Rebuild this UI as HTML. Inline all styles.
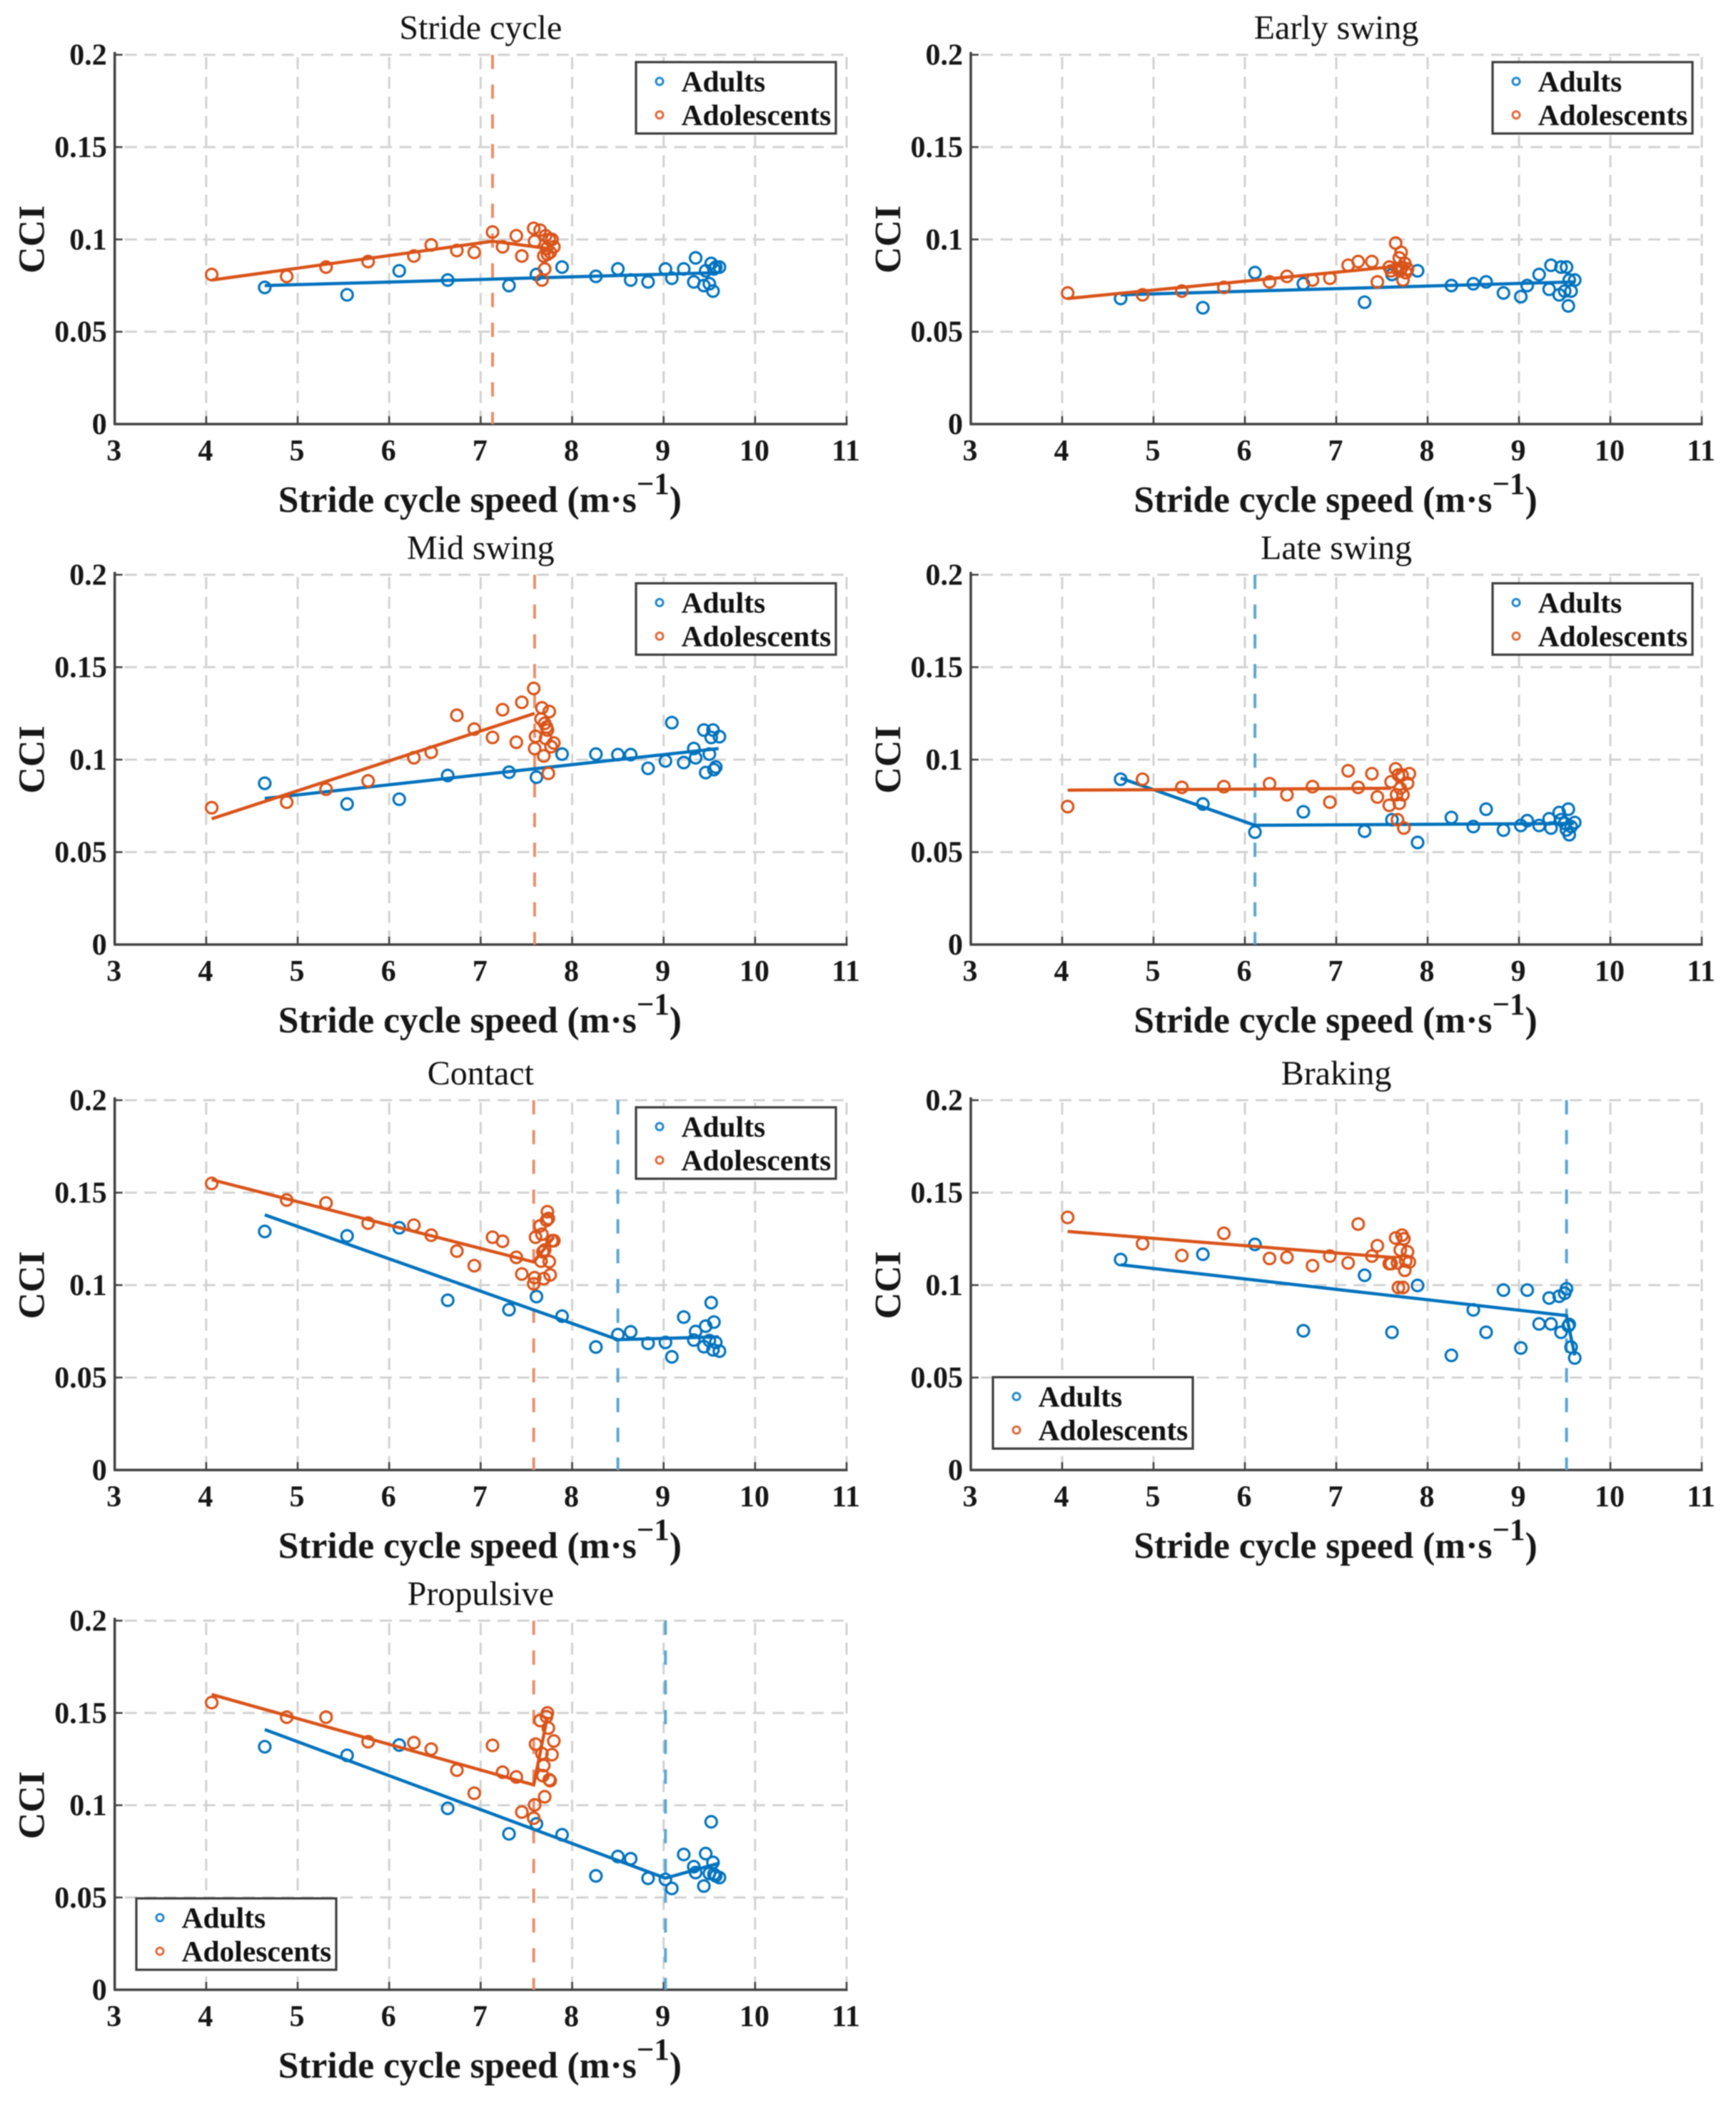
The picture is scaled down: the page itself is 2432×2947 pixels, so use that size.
<!DOCTYPE html>
<html lang="en">
<head>
<meta charset="utf-8">
<title>CCI versus stride cycle speed</title>
<style>
html,body{margin:0;padding:0;background:#fff;}
#figure{display:block;width:2432px;height:2947px;font-family:"Liberation Serif",serif;filter:blur(0.9px);}
</style>
</head>
<body>
<svg id="figure" xmlns="http://www.w3.org/2000/svg" width="2432" height="2947" viewBox="0 0 2432 2947"></svg>
<script>
// ---- Shared axis data ----
const xTicks = [3,4,5,6,7,8,9,10,11];
const yTicks = [0,0.05,0.1,0.15,0.2];
const yTickLabels = ["0","0.05","0.1","0.15","0.2"];
const xAxisTitle = "Stride cycle speed (m·s";
const xAxisSuperscript = "−1";
const yAxisTitle = "CCI";
const seriesNames = ["Adults","Adolescents"];

// ---- Speeds ----
const adultX = [4.64,5.54,6.11,6.64,7.31,7.61,7.89,8.26,8.5,8.64,8.83,9.02,9.09,9.22,9.33,9.35,9.44,9.46,9.5,9.52,9.54,9.55,9.57,9.61];

// ---- Stride cycle ----
const strideAdultY = [.074,.070,.083,.078,.075,.081,.085,.080,.084,.078,.077,.084,.079,.084,.077,.090,.075,.083,.076,.087,.072,.084,.085,.085];
const strideAdoX = [4.06,4.88,5.31,5.77,6.27,6.46,6.74,6.93,7.13,7.24,7.39,7.45,7.58,7.59,7.65,7.67,7.69,7.70,7.71,7.72,7.73,7.75,7.76,7.78,7.80];
const strideAdoY = [.081,.080,.085,.088,.091,.097,.094,.093,.104,.096,.102,.091,.106,.099,.105,.078,.091,.084,.102,.095,.092,.100,.093,.100,.096];
const strideAdultFitX = [4.64,9.6];
const strideAdultFitY = [.075,.082];
const strideAdoFitX = [4.06,7.13,7.75];
const strideAdoFitY = [.078,.099,.095];

// ---- Early swing ----
const earlyAdultY = [.068,.063,.082,.076,.066,.081,.083,.075,.076,.077,.071,.069,.075,.081,.073,.086,.070,.085,.072,.085,.064,.078,.072,.078];
const earlyAdoX = [4.06,4.88,5.31,5.77,6.27,6.46,6.74,6.93,7.13,7.24,7.39,7.45,7.58,7.6,7.65,7.67,7.69,7.70,7.71,7.72,7.73,7.75,7.76,7.78];
const earlyAdoY = [.071,.070,.072,.074,.077,.080,.078,.079,.086,.088,.088,.077,.085,.083,.098,.084,.090,.083,.093,.085,.078,.087,.082,.084];
const earlyAdultFitX = [4.64,9.6];
const earlyAdultFitY = [.070,.077];
const earlyAdoFitX = [4.06,7.78];
const earlyAdoFitY = [.068,.086];

// ---- Mid swing ----
const midAdultY = [.0872,.076,.0786,.0914,.0932,.0905,.103,.103,.1027,.1027,.0953,.0993,.120,.0984,.106,.101,.116,.093,.103,.112,.116,.0946,.096,.1124];
const midAdoX = [4.06,4.88,5.31,5.77,6.27,6.46,6.74,6.93,7.13,7.24,7.39,7.45,7.58,7.59,7.6,7.66,7.67,7.69,7.7,7.71,7.72,7.73,7.74,7.75,7.77,7.8];
const midAdoY = [.074,.077,.084,.0885,.101,.104,.124,.1165,.112,.127,.1094,.131,.1385,.106,.1126,.122,.128,.102,.1196,.1115,.1176,.116,.0926,.126,.107,.109];
const midAdultFitX = [4.64,9.6];
const midAdultFitY = [.079,.106];
const midAdoFitX = [4.06,7.59];
const midAdoFitY = [.068,.125];

// ---- Late swing ----
const lateAdultY = [.0894,.076,.0608,.0718,.0613,.0675,.0552,.0687,.0638,.0732,.0619,.0644,.067,.0644,.068,.063,.0714,.0675,.0656,.062,.0732,.0594,.0638,.066];
const lateAdoX = [4.06,4.88,5.31,5.77,6.27,6.46,6.74,6.93,7.13,7.24,7.39,7.45,7.58,7.6,7.65,7.66,7.67,7.68,7.69,7.7,7.72,7.73,7.74,7.78,7.8];
const lateAdoY = [.0746,.0894,.085,.0854,.087,.081,.0854,.077,.094,.085,.0924,.0798,.0753,.088,.095,.081,.0675,.0917,.0764,.0845,.0917,.081,.063,.0872,.0924];
const lateAdultFitX = [4.64,6.11,9.6];
const lateAdultFitY = [.090,.0645,.0655];
const lateAdoFitX = [4.06,7.6];
const lateAdoFitY = [.0835,.0845];

// ---- Contact ----
const contactAdultY = [.129,.1266,.131,.0918,.0867,.0938,.0832,.0665,.0732,.0747,.0685,.069,.0612,.0827,.0703,.0749,.0667,.0778,.07,.0905,.065,.08,.069,.0643];
const contactAdoX = [4.06,4.88,5.31,5.77,6.27,6.46,6.74,6.93,7.13,7.24,7.39,7.45,7.58,7.59,7.6,7.65,7.66,7.67,7.68,7.69,7.7,7.72,7.73,7.74,7.75,7.76,7.78,7.8];
const contactAdoY = [.155,.146,.1444,.1335,.1324,.127,.1184,.1105,.1259,.1237,.115,.106,.1007,.104,.1259,.132,.113,.1275,.118,.1035,.119,.135,.1397,.136,.1127,.1055,.124,.124];
const contactAdultFitX = [4.64,8.5,9.6];
const contactAdultFitY = [.138,.0705,.072];
const contactAdoFitX = [4.06,7.58,7.8];
const contactAdoFitY = [.157,.1125,.126];

// ---- Braking ----
const brakingAdultY = [.1138,.1167,.122,.0753,.1053,.0745,.0998,.062,.0866,.0745,.0973,.066,.0973,.079,.093,.079,.094,.0745,.0956,.098,.078,.0787,.0665,.0606];
const brakingAdoX = [4.06,4.88,5.31,5.77,6.27,6.46,6.74,6.93,7.13,7.24,7.39,7.45,7.58,7.6,7.65,7.67,7.68,7.7,7.72,7.73,7.74,7.75,7.76,7.78,7.8];
const brakingAdoY = [.1366,.1224,.116,.128,.1144,.115,.1105,.1157,.112,.133,.1157,.1213,.1116,.1116,.1255,.112,.0987,.119,.127,.0987,.125,.108,.113,.118,.1125];
const brakingAdultFitX = [4.64,9.52,9.61];
const brakingAdultFitY = [.111,.0835,.062];
const brakingAdoFitX = [4.06,7.6,7.65];
const brakingAdoFitY = [.129,.115,.115];

// ---- Propulsive ----
const propAdultY = [.1317,.127,.1326,.0983,.0845,.0899,.084,.0617,.0722,.071,.0604,.0598,.0549,.0733,.0667,.0635,.0562,.0738,.063,.091,.069,.0626,.0617,.0608];
const propAdoX = [4.06,4.88,5.31,5.77,6.27,6.46,6.74,6.93,7.13,7.24,7.39,7.45,7.58,7.59,7.6,7.65,7.67,7.68,7.69,7.7,7.72,7.73,7.74,7.75,7.76,7.78,7.8];
const propAdoY = [.1556,.1477,.1477,.1344,.1339,.1304,.119,.1065,.1324,.1179,.1153,.0963,.093,.1002,.1331,.1459,.128,.116,.1215,.1046,.148,.15,.1418,.1138,.1133,.1274,.1348];
const propAdultFitX = [4.64,9.02,9.6];
const propAdultFitY = [.141,.0605,.0685];
const propAdoFitX = [4.06,7.58,7.73];
const propAdoFitY = [.16,.111,.148];

// ---- Panel wiring ----
const panels = [
 {slug:"stride-cycle", title:"Stride cycle", left:160.7, right:1186, top:76.7, bottom:594, ax:adultX, ay:strideAdultY, ox:strideAdoX, oy:strideAdoY, afx:strideAdultFitX, afy:strideAdultFitY, ofx:strideAdoFitX, ofy:strideAdoFitY, adultBreak:null, adoBreak:7.13, legendX:891, legendY:87},
 {slug:"early-swing", title:"Early swing", left:1360, right:2384, top:76.7, bottom:594, ax:adultX, ay:earlyAdultY, ox:earlyAdoX, oy:earlyAdoY, afx:earlyAdultFitX, afy:earlyAdultFitY, ofx:earlyAdoFitX, ofy:earlyAdoFitY, adultBreak:null, adoBreak:null, legendX:2091, legendY:87},
 {slug:"mid-swing", title:"Mid swing", left:160.7, right:1186, top:805, bottom:1323, ax:adultX, ay:midAdultY, ox:midAdoX, oy:midAdoY, afx:midAdultFitX, afy:midAdultFitY, ofx:midAdoFitX, ofy:midAdoFitY, adultBreak:null, adoBreak:7.59, legendX:891, legendY:817},
 {slug:"late-swing", title:"Late swing", left:1360, right:2384, top:805, bottom:1323, ax:adultX, ay:lateAdultY, ox:lateAdoX, oy:lateAdoY, afx:lateAdultFitX, afy:lateAdultFitY, ofx:lateAdoFitX, ofy:lateAdoFitY, adultBreak:6.11, adoBreak:null, legendX:2091, legendY:817},
 {slug:"contact", title:"Contact", left:160.7, right:1186, top:1541, bottom:2059, ax:adultX, ay:contactAdultY, ox:contactAdoX, oy:contactAdoY, afx:contactAdultFitX, afy:contactAdultFitY, ofx:contactAdoFitX, ofy:contactAdoFitY, adultBreak:8.5, adoBreak:7.58, legendX:891, legendY:1551},
 {slug:"braking", title:"Braking", left:1360, right:2384, top:1541, bottom:2059, ax:adultX, ay:brakingAdultY, ox:brakingAdoX, oy:brakingAdoY, afx:brakingAdultFitX, afy:brakingAdultFitY, ofx:brakingAdoFitX, ofy:brakingAdoFitY, adultBreak:9.52, adoBreak:null, legendX:1391, legendY:1929},
 {slug:"propulsive", title:"Propulsive", left:160.7, right:1186, top:2270, bottom:2787, ax:adultX, ay:propAdultY, ox:propAdoX, oy:propAdoY, afx:propAdultFitX, afy:propAdultFitY, ofx:propAdoFitX, ofy:propAdoFitY, adultBreak:9.02, adoBreak:7.58, legendX:191, legendY:2659}
];

const BLUE = "#0072BD", ORANGE = "#D95319", BLUE_V = "#5BA6D3", ORANGE_V = "#E8906C";
const AXIS = "#404040", GRID = "#d2d2d2", INK = "#161616";
const XMIN = 3, XMAX = 11, YMIN = 0, YMAX = 0.2;
const NS = "http://www.w3.org/2000/svg";
const root = document.getElementById("figure");

function make(tag, attrs, parent){
  const el = document.createElementNS(NS, tag);
  for (const k in attrs) el.setAttribute(k, attrs[k]);
  parent.appendChild(el);
  return el;
}

panels.forEach(function(p){
  const sx = function(v){ return p.left + (v - XMIN) / (XMAX - XMIN) * (p.right - p.left); };
  const sy = function(v){ return p.bottom - (v - YMIN) / (YMAX - YMIN) * (p.bottom - p.top); };
  const centre = (p.left + p.right) / 2;

  const g = make("g", {}, root);
  
  

  // grid
  const grid = make("g", {stroke:GRID, "stroke-width":3, fill:"none"}, g);
  
  
  xTicks.forEach(function(t){
    if (t === XMIN) return;
    const l = make("line", {x1:sx(t), x2:sx(t), y1:p.top, y2:p.bottom, "stroke-dasharray":"17 10.5", "stroke-dashoffset":24.2}, grid);
    
    
  });
  yTicks.forEach(function(t){
    if (t === YMIN) return;
    const l = make("line", {x1:p.left, x2:p.right, y1:sy(t), y2:sy(t), "stroke-dasharray":"17 10.5", "stroke-dashoffset":13.5}, grid);
    
    
  });

  // axes and ticks
  const xAxis = make("line", {x1:p.left-1.5, x2:p.right+1.5, y1:p.bottom, y2:p.bottom, stroke:AXIS, "stroke-width":3.5}, g);
  
  
  const yAxis = make("line", {x1:p.left, x2:p.left, y1:p.top-4, y2:p.bottom, stroke:AXIS, "stroke-width":3.5}, g);
  
  

  xTicks.forEach(function(t){
    const m = make("line", {x1:sx(t), x2:sx(t), y1:p.bottom, y2:p.bottom-11, stroke:AXIS, "stroke-width":2.5}, g);
    
    
    const lab = make("text", {x:sx(t)-1, y:p.bottom+51, "text-anchor":"middle", "font-size":42, "font-weight":"bold", fill:INK}, g);
    
    
    lab.textContent = String(t);
  });
  yTicks.forEach(function(t, i){
    const m = make("line", {x1:p.left, x2:p.left+11, y1:sy(t), y2:sy(t), stroke:AXIS, "stroke-width":2.5}, g);
    
    
    const lab = make("text", {x:p.left-11, y:sy(t)+14, "text-anchor":"end", "font-size":42, "font-weight":"bold", fill:INK}, g);
    
    
    lab.textContent = yTickLabels[i];
  });

  // breakpoints
  if (p.adoBreak !== null) {
    const v = make("line", {x1:sx(p.adoBreak), x2:sx(p.adoBreak), y1:p.top, y2:p.bottom, stroke:ORANGE_V, "stroke-width":4, "stroke-dasharray":"20 21.7"}, g);
    
    
  }
  if (p.adultBreak !== null) {
    const v = make("line", {x1:sx(p.adultBreak), x2:sx(p.adultBreak), y1:p.top, y2:p.bottom, stroke:BLUE_V, "stroke-width":4, "stroke-dasharray":"20 21.7"}, g);
    
    
  }

  // adults series
  const aPts = make("g", {fill:"none", stroke:BLUE, "stroke-width":3.2}, g);
  
  
  p.ay.forEach(function(y, i){
    const c = make("circle", {cx:sx(p.ax[i]), cy:sy(y), r:8}, aPts);
    
    
  });
  const aFit = make("polyline", {fill:"none", stroke:BLUE, "stroke-width":4.5, points:p.afx.map(function(x, i){ return sx(x) + "," + sy(p.afy[i]); }).join(" ")}, g);
  
  

  // adolescents series
  const oPts = make("g", {fill:"none", stroke:ORANGE, "stroke-width":3.2}, g);
  
  
  p.oy.forEach(function(y, i){
    const c = make("circle", {cx:sx(p.ox[i]), cy:sy(y), r:8}, oPts);
    
    
  });
  const oFit = make("polyline", {fill:"none", stroke:ORANGE, "stroke-width":4.5, points:p.ofx.map(function(x, i){ return sx(x) + "," + sy(p.ofy[i]); }).join(" ")}, g);
  
  

  // titles
  const title = make("text", {x:centre, y:p.top-22, "text-anchor":"middle", "font-size":48, fill:"#111"}, g);
  
  
  title.textContent = p.title;

  const xt = make("text", {x:centre-1, y:p.bottom+123, "text-anchor":"middle", "font-size":51.5, "font-weight":"bold", fill:INK}, g);
  
  
  xt.appendChild(document.createTextNode(xAxisTitle));
  const sup = make("tspan", {dy:-25, "font-size":43}, xt);
  sup.textContent = xAxisSuperscript;
  const close = make("tspan", {dy:25}, xt);
  close.textContent = ")";

  const yx = p.left - 99, yy = (p.top + p.bottom) / 2;
  const yt = make("text", {x:yx, y:yy, "text-anchor":"middle", "font-size":52, "font-weight":"bold", fill:INK, transform:"rotate(-90 " + yx + " " + yy + ")"}, g);
  
  
  yt.textContent = yAxisTitle;

  // legend
  const leg = make("g", {}, g);
  
  
  const box = make("rect", {x:p.legendX, y:p.legendY, width:280, height:100, fill:"#fff", stroke:"#3c3c3c", "stroke-width":3.2}, leg);
  
  
  [BLUE, ORANGE].forEach(function(col, i){
    const mark = make("circle", {cx:p.legendX+33, cy:p.legendY+27+i*47, r:5, fill:"none", stroke:i === 0 ? "#2288cc" : "#e06a3a", "stroke-width":3}, leg);
    
    
    const t = make("text", {x:p.legendX+63.5, y:p.legendY+41+i*47, "font-size":41.5, "font-weight":"bold", fill:"#111"}, leg);
    
    
    t.textContent = seriesNames[i];
  });
});
</script>
</body>
</html>
